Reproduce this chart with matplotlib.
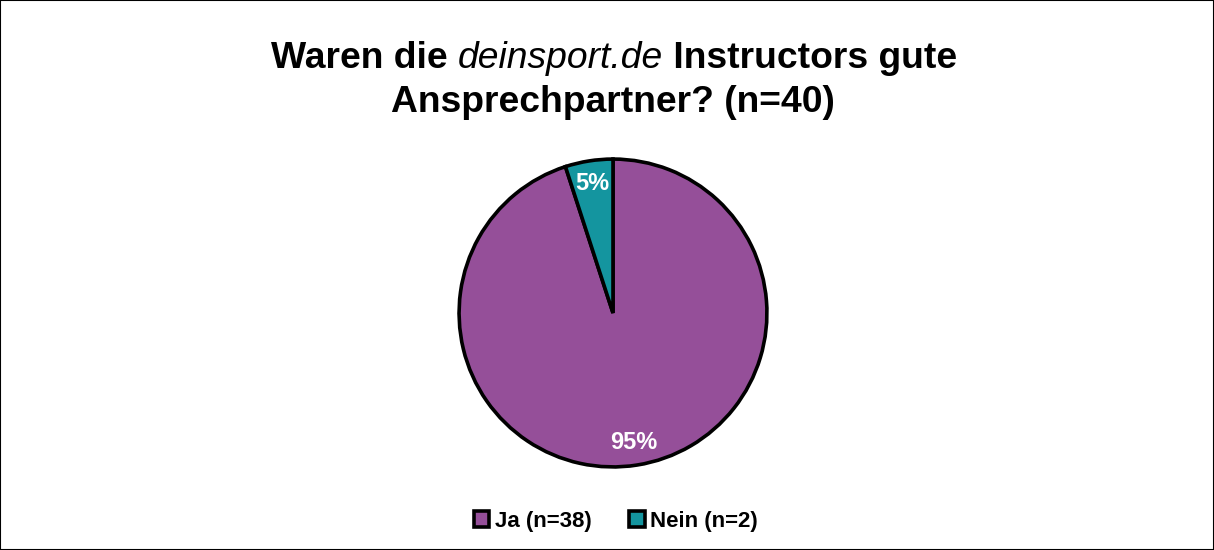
import matplotlib
matplotlib.use("Agg")
import matplotlib.pyplot as plt
from matplotlib.patches import Rectangle
from matplotlib.font_manager import findfont, FontProperties

labels = ["Ja (n=38)", "Nein (n=2)"]
values = [38, 2]
colors = ["#954F99", "#14959F"]

title_line1 = [("Waren die ", "normal", "bold"),
               ("deinsport.de", "italic", "normal"),
               (" Instructors gute", "normal", "bold")]
title_line2 = "Ansprechpartner? (n=40)"

try:
    findfont(FontProperties(family="Liberation Sans Narrow"), fallback_to_default=False)
    FAMILY = "Liberation Sans Narrow"
except Exception:
    FAMILY = "Liberation Sans"

W, H = 1214, 550
fig = plt.figure(figsize=(W / 100, H / 100), dpi=100)
fig.patches.append(Rectangle((0, 0), 1, 1, transform=fig.transFigure,
                             fill=False, edgecolor="black", linewidth=1.5))

# pie axes: center (613, 313), radius 157 px
cx, cy, r = 613, 313, 157
ax = fig.add_axes([(cx - r) / W, (H - cy - r) / H, 2 * r / W, 2 * r / H])
wedges, _, autotexts = ax.pie(
    values, colors=colors, startangle=90, counterclock=False,
    autopct=lambda p: f"{p:.0f}%", pctdistance=0.85,
    wedgeprops=dict(edgecolor="black", linewidth=2.6),
    textprops=dict(color="white", fontsize=17, fontweight="bold", family=FAMILY),
)
ax.set_xlim(-1.02, 1.02)
ax.set_ylim(-1.02, 1.02)
ax.set_aspect("equal")

# title with italic middle part
renderer = fig.canvas.get_renderer()
fs = 26.8
pieces = []
for txt, style, weight in title_line1:
    t = fig.text(0, 1 - 58 / H, txt, fontsize=fs, fontstyle=style, fontweight=weight,
                 family=FAMILY, va="center", ha="left")
    pieces.append(t)
widths = [p.get_window_extent(renderer).width for p in pieces]
x = 614 - sum(widths) / 2
for p, w in zip(pieces, widths):
    p.set_x(x / W)
    x += w
fig.text(613 / W, 1 - 103 / H, title_line2, fontsize=fs, fontweight="bold",
         family=FAMILY, ha="center", va="center")

leg = fig.legend(wedges, labels, loc="center", bbox_to_anchor=(616 / W, 1 - 521 / H),
                 ncol=2, frameon=False, handlelength=0.7, handleheight=0.7,
                 handletextpad=0.25, columnspacing=1.7,
                 prop=dict(family=FAMILY, weight="bold", size=16))
for h in leg.legend_handles:
    h.set_linewidth(2.6)

fig.savefig("out.png", dpi=100)
